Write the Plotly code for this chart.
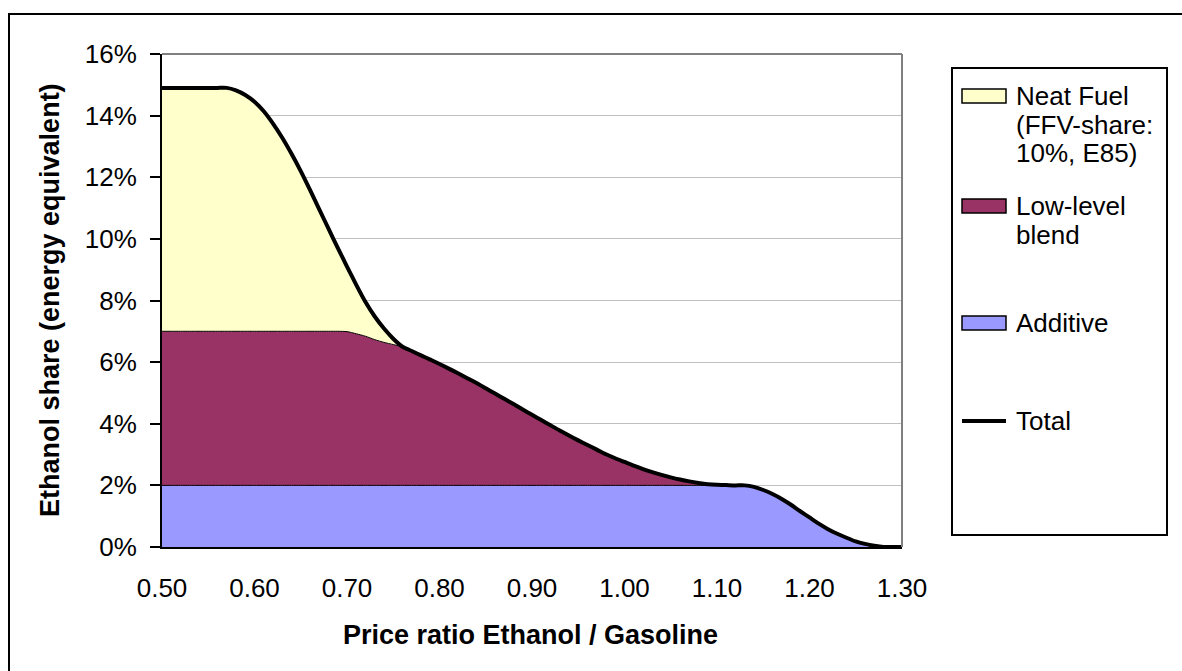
import plotly.graph_objects as go

# Price ratio ethanol / gasoline (x axis)
price_ratio = [
    0.50, 0.51, 0.52, 0.53, 0.54, 0.55, 0.56, 0.57, 0.58, 0.59,
    0.60, 0.61, 0.62, 0.63, 0.64, 0.65, 0.66, 0.67, 0.68, 0.69,
    0.70, 0.71, 0.72, 0.73, 0.74, 0.75, 0.76, 0.77, 0.78, 0.79,
    0.80, 0.81, 0.82, 0.83, 0.84, 0.85, 0.86, 0.87, 0.88, 0.89,
    0.90, 0.91, 0.92, 0.93, 0.94, 0.95, 0.96, 0.97, 0.98, 0.99,
    1.00, 1.01, 1.02, 1.03, 1.04, 1.05, 1.06, 1.07, 1.08, 1.09,
    1.10, 1.11, 1.12, 1.13, 1.14, 1.15, 1.16, 1.17, 1.18, 1.19,
    1.20, 1.21, 1.22, 1.23, 1.24, 1.25, 1.26, 1.27, 1.28, 1.29,
    1.30,
]

# Ethanol share in % (stacked components)
additive = [
    2.0, 2.0, 2.0, 2.0, 2.0, 2.0, 2.0, 2.0, 2.0, 2.0,
    2.0, 2.0, 2.0, 2.0, 2.0, 2.0, 2.0, 2.0, 2.0, 2.0,
    2.0, 2.0, 2.0, 2.0, 2.0, 2.0, 2.0, 2.0, 2.0, 2.0,
    2.0, 2.0, 2.0, 2.0, 2.0, 2.0, 2.0, 2.0, 2.0, 2.0,
    2.0, 2.0, 2.0, 2.0, 2.0, 2.0, 2.0, 2.0, 2.0, 2.0,
    2.0, 2.0, 2.0, 2.0, 2.0, 2.0, 2.0, 2.0, 2.0, 2.0,
    2.0, 2.0, 2.0, 2.0, 1.95, 1.85, 1.72, 1.56, 1.37, 1.16,
    0.96, 0.76, 0.58, 0.43, 0.30, 0.18, 0.10, 0.04, 0.0, 0.0,
    0.0,
]

low_level = [
    5.0, 5.0, 5.0, 5.0, 5.0, 5.0, 5.0, 5.0, 5.0, 5.0,
    5.0, 5.0, 5.0, 5.0, 5.0, 5.0, 5.0, 5.0, 5.0, 5.0,
    4.99, 4.92, 4.84, 4.73, 4.64, 4.57, 4.50, 4.36, 4.22, 4.08,
    3.94, 3.79, 3.64, 3.48, 3.32, 3.15, 2.98, 2.81, 2.64, 2.46,
    2.29, 2.12, 1.95, 1.78, 1.62, 1.46, 1.31, 1.16, 1.01, 0.88,
    0.76, 0.64, 0.53, 0.43, 0.34, 0.26, 0.19, 0.13, 0.08, 0.04,
    0.02, 0.01, 0.0, 0.0, 0.0, 0.0, 0.0, 0.0, 0.0, 0.0,
    0.0, 0.0, 0.0, 0.0, 0.0, 0.0, 0.0, 0.0, 0.0, 0.0,
    0.0,
]

neat_fuel = [
    7.9, 7.9, 7.9, 7.9, 7.9, 7.9, 7.9, 7.9, 7.82, 7.67,
    7.45, 7.14, 6.74, 6.28, 5.76, 5.20, 4.59, 3.96, 3.33, 2.71,
    2.11, 1.59, 1.11, 0.75, 0.45, 0.19, 0.0, 0.0, 0.0, 0.0,
    0.0, 0.0, 0.0, 0.0, 0.0, 0.0, 0.0, 0.0, 0.0, 0.0,
    0.0, 0.0, 0.0, 0.0, 0.0, 0.0, 0.0, 0.0, 0.0, 0.0,
    0.0, 0.0, 0.0, 0.0, 0.0, 0.0, 0.0, 0.0, 0.0, 0.0,
    0.0, 0.0, 0.0, 0.0, 0.0, 0.0, 0.0, 0.0, 0.0, 0.0,
    0.0, 0.0, 0.0, 0.0, 0.0, 0.0, 0.0, 0.0, 0.0, 0.0,
    0.0,
]

total = [a + b + c for a, b, c in zip(additive, low_level, neat_fuel)]

# legend text, one entry per line
legend_neat = ["Neat Fuel", "(FFV-share:", "10%, E85)"]
legend_low = ["Low-level", "blend"]
legend_add = ["Additive"]
legend_total = ["Total"]
colors = {"neat": "#FFFFCC", "low": "#993366", "add": "#9999FF"}

FONT = "Liberation Sans, Arial, sans-serif"
FS = 26

# plot area in pixels (1182 x 671 canvas)
W, H = 1182, 671
PL, PR, PT, PB = 162, 902, 54, 547


def px(x):
    return (x - PL) / (PR - PL)


def py(y):
    return (PB - y) / (PB - PT)


fig = go.Figure()

smooth = dict(shape="spline", smoothing=0.6)
fig.add_trace(go.Scatter(x=price_ratio, y=additive, stackgroup="one", mode="lines",
                         line=dict(color="black", width=1, **smooth), fillcolor=colors["add"],
                         name="Additive", showlegend=False))
fig.add_trace(go.Scatter(x=price_ratio, y=low_level, stackgroup="one", mode="lines",
                         line=dict(color="black", width=1, **smooth), fillcolor=colors["low"],
                         name="Low-level blend", showlegend=False))
fig.add_trace(go.Scatter(x=price_ratio, y=neat_fuel, stackgroup="one", mode="lines",
                         line=dict(color="black", width=1, **smooth), fillcolor=colors["neat"],
                         name="Neat Fuel", showlegend=False))
fig.add_trace(go.Scatter(x=price_ratio, y=total, mode="lines",
                         line=dict(color="black", width=4, **smooth),
                         name="Total", showlegend=False))

shapes = []
# plot-area border (top & right, gray)
shapes.append(dict(type="line", xref="paper", yref="paper", x0=0, x1=1, y0=1, y1=1,
                   line=dict(color="#808080", width=2)))
shapes.append(dict(type="line", xref="paper", yref="paper", x0=1, x1=1, y0=0, y1=1,
                   line=dict(color="#808080", width=2)))
# outer chart border (right and bottom edges fall outside the canvas)
shapes.append(dict(type="rect", xref="paper", yref="paper",
                   x0=px(9), x1=px(W + 20), y0=py(14), y1=py(H + 20),
                   line=dict(color="black", width=2), layer="below"))
# legend box
shapes.append(dict(type="rect", xref="paper", yref="paper",
                   x0=px(952), x1=px(1167), y0=py(68), y1=py(535),
                   line=dict(color="black", width=2), fillcolor="white"))

annotations = []
legend_rows = [
    (legend_neat, colors["neat"], [96, 124.5, 153]),
    (legend_low, colors["low"], [206, 234.5]),
    (legend_add, colors["add"], [323]),
]
for lines, col, ys in legend_rows:
    shapes.append(dict(type="rect", xref="paper", yref="paper",
                       x0=px(962), x1=px(1006), y0=py(ys[0] + 7), y1=py(ys[0] - 7),
                       line=dict(color="black", width=1.5), fillcolor=col))
    for txt, yc in zip(lines, ys):
        annotations.append(dict(xref="paper", yref="paper", x=px(1014), y=py(yc),
                                text=txt, showarrow=False, xanchor="left", yanchor="middle",
                                font=dict(family=FONT, size=FS, color="black")))
shapes.append(dict(type="line", xref="paper", yref="paper",
                   x0=px(962), x1=px(1006), y0=py(421), y1=py(421),
                   line=dict(color="black", width=4)))
annotations.append(dict(xref="paper", yref="paper", x=px(1014), y=py(421),
                        text=legend_total[0], showarrow=False, xanchor="left", yanchor="middle",
                        font=dict(family=FONT, size=FS, color="black")))

# axis titles
annotations.append(dict(xref="paper", yref="paper", x=px(530), y=py(635),
                        text="<b>Price ratio Ethanol / Gasoline</b>", showarrow=False,
                        xanchor="center", yanchor="middle",
                        font=dict(family=FONT, size=27, color="black")))
annotations.append(dict(xref="paper", yref="paper", x=px(50), y=py(300),
                        text="<b>Ethanol share (energy equivalent)</b>", showarrow=False,
                        textangle=-90, xanchor="center", yanchor="middle",
                        font=dict(family=FONT, size=27, color="black")))

fig.update_layout(
    width=W, height=H,
    margin=dict(l=PL, r=W - PR, t=PT, b=H - PB),
    plot_bgcolor="white", paper_bgcolor="white",
    font=dict(family=FONT, size=FS, color="black"),
    shapes=shapes, annotations=annotations,
    showlegend=False,
    hovermode=False,
)
fig.update_xaxes(range=[0.5, 1.3], dtick=0.1, tick0=0.5, tickformat=".2f",
                 showgrid=False, zeroline=False, showline=True, linecolor="black", linewidth=2,
                 ticks="", ticklabelstandoff=17)
fig.update_yaxes(range=[0, 16], dtick=2, tick0=0, ticksuffix="%",
                 showgrid=True, gridcolor="#C0C0C0", gridwidth=1, zeroline=False,
                 showline=True, linecolor="black", linewidth=2,
                 ticks="outside", ticklen=10, tickcolor="black", tickwidth=2,
                 ticklabelstandoff=8)

fig.write_html("out.html", config={"displayModeBar": False},
               post_script="document.body.style.margin='0';")
